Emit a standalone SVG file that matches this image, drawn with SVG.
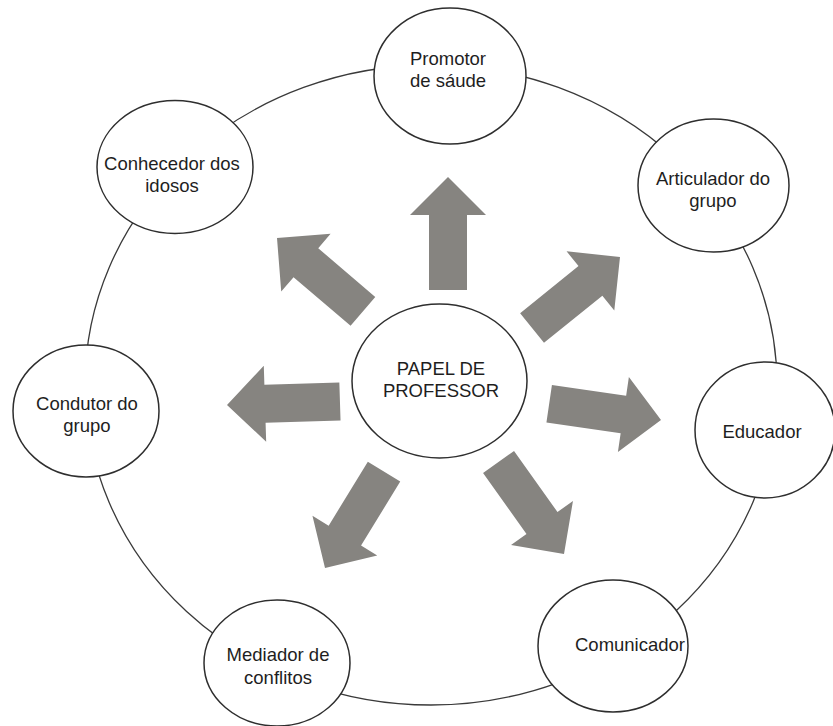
<svg xmlns="http://www.w3.org/2000/svg" width="833" height="726" viewBox="0 0 833 726">
  <style>
    .ring { fill: none; stroke: #3a3a3a; stroke-width: 1.3; }
    .node { fill: #ffffff; stroke: #2e2e2e; stroke-width: 1.5; }
    .label { font-family: "Liberation Sans", Arial, Helvetica, sans-serif; font-size: 18.5px; fill: #1e1e1e; text-anchor: middle; }
    .arrow { fill: #868480; }
  </style>
  <defs>
    <!-- block arrow pointing along +x, tip at the origin -->
    <path id="blockArrow" d="M0,0 L-38,-38 L-38,-19 L-113,-19 L-113,19 L-38,19 L-38,38 Z"/>
  </defs>

  <rect width="833" height="726" fill="#ffffff"/>

  <!-- outer ring linking the roles -->
  <g id="connectors">
    <ellipse class="ring" cx="431" cy="385" rx="346" ry="320"/>
    <g class="arrow">
      <use href="#blockArrow" transform="translate(448,177) rotate(-90)"/>
      <use href="#blockArrow" transform="translate(277,238) rotate(-139.5)"/>
      <use href="#blockArrow" transform="translate(620,257) rotate(-38.9)"/>
      <use href="#blockArrow" transform="translate(227,405) rotate(178.2)"/>
      <use href="#blockArrow" transform="translate(661,420) rotate(8.3)"/>
      <use href="#blockArrow" transform="translate(325,568) rotate(121.5)"/>
      <use href="#blockArrow" transform="translate(564,554) rotate(54.6)"/>
    </g>
  </g>

  <g id="promotor">
    <ellipse class="node" cx="450" cy="76" rx="76" ry="68"/>
    <text class="label" x="448" y="64.5">Promotor</text>
    <text class="label" x="448" y="86.5">de sáude</text>
  </g>

  <g id="conhecedor">
    <ellipse class="node" cx="175" cy="167" rx="78" ry="66.5"/>
    <text class="label" x="172" y="169.5">Conhecedor dos</text>
    <text class="label" x="172" y="191.5">idosos</text>
  </g>

  <g id="articulador">
    <ellipse class="node" cx="713.5" cy="185.5" rx="75.5" ry="66.5"/>
    <text class="label" x="713" y="184.5">Articulador do</text>
    <text class="label" x="713" y="206.5">grupo</text>
  </g>

  <g id="condutor">
    <ellipse class="node" cx="86" cy="411" rx="73" ry="66"/>
    <text class="label" x="87" y="409.5">Condutor do</text>
    <text class="label" x="87" y="431.5">grupo</text>
  </g>

  <g id="educador">
    <ellipse class="node" cx="765" cy="430" rx="70" ry="68"/>
    <text class="label" x="762" y="438">Educador</text>
  </g>

  <g id="comunicador">
    <ellipse class="node" cx="613" cy="646" rx="75" ry="66"/>
    <text class="label" x="630" y="651">Comunicador</text>
  </g>

  <g id="mediador">
    <ellipse class="node" cx="277" cy="663" rx="73" ry="63"/>
    <text class="label" x="278" y="661">Mediador de</text>
    <text class="label" x="278" y="684">conflitos</text>
  </g>

  <g id="professor">
    <ellipse class="node" cx="439.5" cy="381" rx="87.5" ry="77"/>
    <text class="label" x="441" y="375">PAPEL DE</text>
    <text class="label" x="441" y="397">PROFESSOR</text>
  </g>
</svg>
